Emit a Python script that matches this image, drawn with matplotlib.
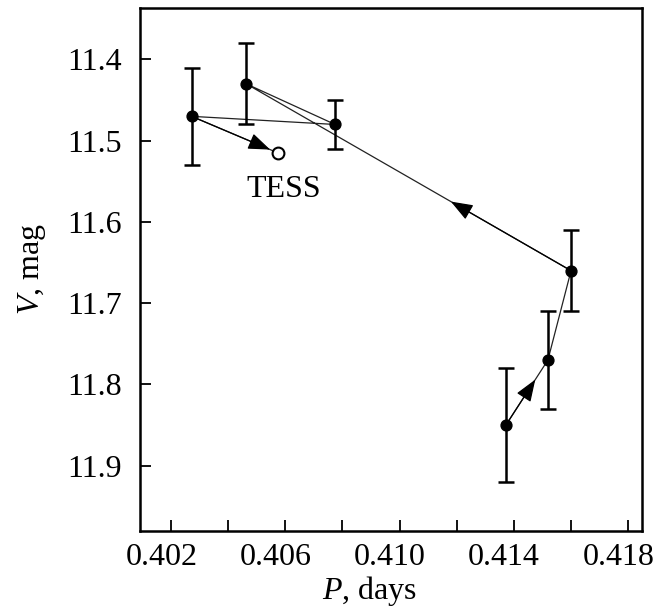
import numpy as np
import matplotlib
matplotlib.use('Agg')
from matplotlib import pyplot as plt
from matplotlib import transforms

''' matplotlib config '''
plt.rcParams['font.family'] = ['Liberation Serif', 'DejaVu Serif']
plt.rcParams['mathtext.fontset'] = 'custom'
plt.rcParams['mathtext.rm'] = 'Liberation Serif'
plt.rcParams['mathtext.it'] = 'Liberation Serif:italic'
plt.rcParams['font.size'] = 23

# observed points, in time order
period = [0.41372, 0.41519, 0.41600, 0.40463, 0.40774, 0.40272]
vmag = [11.85, 11.77, 11.66, 11.43, 11.48, 11.47]
verr = [0.07, 0.06, 0.05, 0.05, 0.03, 0.06]

# TESS point
tess_p = 0.40574
tess_v = 11.515

# arrows: (segment start index, fraction along segment where the tip sits)
arrows = [(0, 0.70), (2, 0.37)]
tess_frac = 0.91

xticks = [0.402, 0.406, 0.410, 0.414, 0.418]
xticklabels = ['0.402', '0.406', '0.410', '0.414', '0.418']
yticks = [11.4, 11.5, 11.6, 11.7, 11.8, 11.9]

fig = plt.figure(figsize=(6.57, 6.09), dpi=100)
ax = fig.add_axes([0.213, 0.1286, 0.764, 0.8578])

line_kw = dict(color='#222222', lw=0.9)
ax.plot(period, vmag, **line_kw)
ax.plot([period[-1], tess_p], [vmag[-1], tess_v], **line_kw)

ax.errorbar(period, vmag, yerr=verr, fmt='o', color='k', ms=7.8,
            elinewidth=1.8, capsize=6, capthick=1.8, zorder=3)
ax.plot([tess_p], [tess_v], 'o', mfc='white', mec='k', mew=1.5, ms=8.5, zorder=4)

head = dict(arrowstyle='-|>,head_length=0.8,head_width=0.3', mutation_scale=17,
            color='k', lw=0.9, shrinkA=0, shrinkB=0)
for i, f in arrows:
  x0, y0 = period[i], vmag[i]
  x1, y1 = period[i+1], vmag[i+1]
  tip = (x0 + f*(x1-x0), y0 + f*(y1-y0))
  ax.annotate('', xy=tip, xytext=(x0, y0), arrowprops=head)
x0, y0 = period[-1], vmag[-1]
tip = (x0 + tess_frac*(tess_p-x0), y0 + tess_frac*(tess_v-y0))
ax.annotate('', xy=tip, xytext=(x0, y0), arrowprops=head)

ax.annotate('TESS', xy=(tess_p, tess_v), xytext=(4.5, -26), textcoords='offset points',
            ha='center', va='center', fontsize=23)

ax.set_xlim(0.40091, 0.41848)
ax.set_ylim(11.98, 11.337)
ax.set_xticks(np.arange(0.402, 0.4185, 0.002), minor=True)
ax.set_xticks(xticks)
ax.set_xticklabels(xticklabels)
ax.set_yticks(yticks)
ax.tick_params(which='both', direction='in', length=8, width=1.3)
ax.tick_params(axis='x', pad=9)
ax.tick_params(axis='y', pad=13)
for s in ax.spines.values():
  s.set_linewidth(1.8)

# labels in the original sit a bit left of their ticks
shift = transforms.ScaledTranslation(-7/72, 0, fig.dpi_scale_trans)
for lab in ax.get_xticklabels():
  lab.set_transform(lab.get_transform() + shift)

ax.set_xlabel('$P$, days')
ax.xaxis.set_label_coords(0.457, -0.083)
ax.set_ylabel('$V$, mag', labelpad=14)

fig.savefig('out.png', dpi=100)

# EOF
